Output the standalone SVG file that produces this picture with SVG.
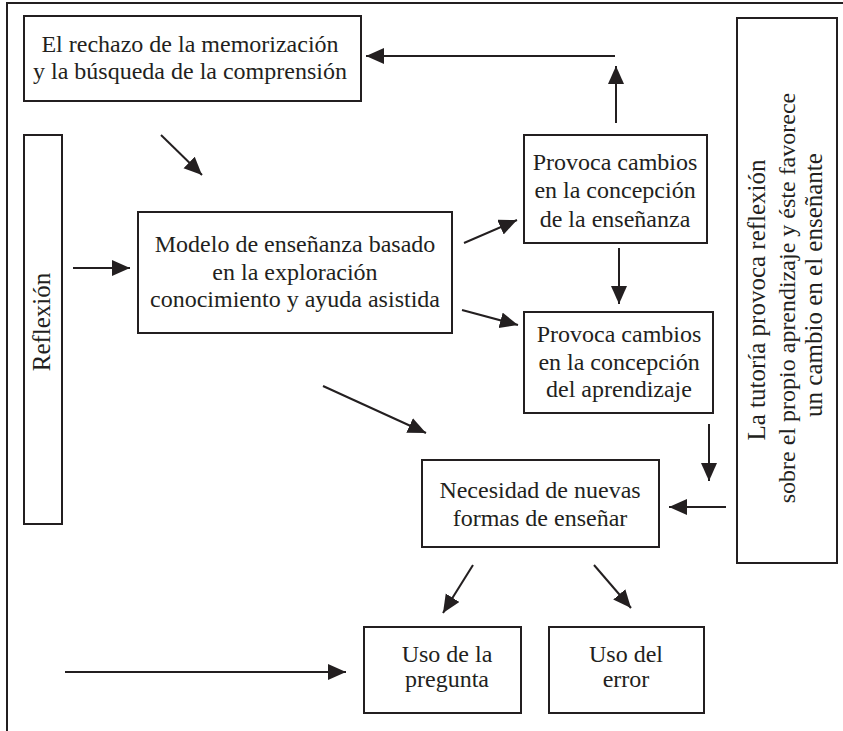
<svg xmlns="http://www.w3.org/2000/svg" width="843" height="731" viewBox="0 0 843 731">
  <style>
    .box { fill: #ffffff; stroke: #231f20; stroke-width: 2; }
    .frame { fill: none; stroke: #231f20; stroke-width: 2; }
    .link { fill: none; stroke: #231f20; stroke-width: 2; }
    .lbl { font-family: "Liberation Serif", "Times New Roman", serif; font-size: 24px; fill: #231f20; text-anchor: middle; }
    .side { font-size: 25px; }
  </style>
  <defs>
    <marker id="head" markerUnits="userSpaceOnUse" markerWidth="20" markerHeight="18" refX="18" refY="8" orient="auto">
      <path d="M0,0 L18,8 L0,16 z" fill="#231f20"/>
    </marker>
  </defs>
  <rect width="843" height="731" fill="#ffffff"/>

  <!-- open outer frame: top and left edges only -->
  <path class="frame" d="M7,731 L7,3 L843,3"/>

  <g id="rechazo">
    <rect class="box" x="24" y="16" width="337" height="85"/>
    <text class="lbl" x="190" y="52">El rechazo de la memorización</text>
    <text class="lbl" x="190" y="79">y la búsqueda de la comprensión</text>
  </g>

  <g id="reflexion">
    <rect class="box" x="24" y="135" width="38" height="389"/>
    <text class="lbl side" transform="translate(50,322) rotate(-90)">Reflexión</text>
  </g>

  <g id="modelo">
    <rect class="box" x="138" y="212" width="314" height="121"/>
    <text class="lbl" x="295" y="252">Modelo de enseñanza basado</text>
    <text class="lbl" x="295" y="280">en la exploración</text>
    <text class="lbl" x="295" y="307">conocimiento y ayuda asistida</text>
  </g>

  <g id="cambios-ensenanza">
    <rect class="box" x="524" y="135" width="183" height="108"/>
    <text class="lbl" x="615" y="170">Provoca cambios</text>
    <text class="lbl" x="615" y="198">en la concepción</text>
    <text class="lbl" x="615" y="227">de la enseñanza</text>
  </g>

  <g id="cambios-aprendizaje">
    <rect class="box" x="524" y="312" width="189" height="101"/>
    <text class="lbl" x="619" y="342">Provoca cambios</text>
    <text class="lbl" x="619" y="370">en la concepción</text>
    <text class="lbl" x="619" y="397">del aprendizaje</text>
  </g>

  <g id="tutoria">
    <rect class="box" x="737" y="18" width="100" height="545"/>
    <text class="lbl side" transform="translate(765,300) rotate(-90)">La tutoría provoca reflexión</text>
    <text class="lbl" transform="translate(795,298) rotate(-90)">sobre el propio aprendizaje y éste favorece</text>
    <text class="lbl side" transform="translate(822,285) rotate(-90)">un cambio en el enseñante</text>
  </g>

  <g id="necesidad">
    <rect class="box" x="422" y="460" width="237" height="87"/>
    <text class="lbl" x="540" y="498">Necesidad de nuevas</text>
    <text class="lbl" x="540" y="526">formas de enseñar</text>
  </g>

  <g id="pregunta">
    <rect class="box" x="364" y="627" width="157" height="86"/>
    <text class="lbl" x="447" y="662">Uso de la</text>
    <text class="lbl" x="447" y="687">pregunta</text>
  </g>

  <g id="error">
    <rect class="box" x="549" y="627" width="155" height="86"/>
    <text class="lbl" x="626" y="662">Uso del</text>
    <text class="lbl" x="626" y="687">error</text>
  </g>

  <g id="connectors">
    <line class="link" x1="615" y1="56" x2="366" y2="56" marker-end="url(#head)"/>
    <line class="link" x1="616" y1="123" x2="616" y2="66" marker-end="url(#head)"/>
    <line class="link" x1="161" y1="135" x2="202" y2="175" marker-end="url(#head)"/>
    <line class="link" x1="73" y1="268" x2="130" y2="268" marker-end="url(#head)"/>
    <line class="link" x1="464" y1="243" x2="517" y2="220" marker-end="url(#head)"/>
    <line class="link" x1="462" y1="310" x2="518" y2="325" marker-end="url(#head)"/>
    <line class="link" x1="619" y1="248" x2="619" y2="304" marker-end="url(#head)"/>
    <line class="link" x1="709" y1="424" x2="709" y2="481" marker-end="url(#head)"/>
    <line class="link" x1="726" y1="507" x2="669" y2="507" marker-end="url(#head)"/>
    <line class="link" x1="323" y1="386" x2="426" y2="433" marker-end="url(#head)"/>
    <line class="link" x1="473" y1="565" x2="443" y2="613" marker-end="url(#head)"/>
    <line class="link" x1="594" y1="565" x2="631" y2="608" marker-end="url(#head)"/>
    <line class="link" x1="65" y1="672" x2="346" y2="672" marker-end="url(#head)"/>
  </g>
</svg>
